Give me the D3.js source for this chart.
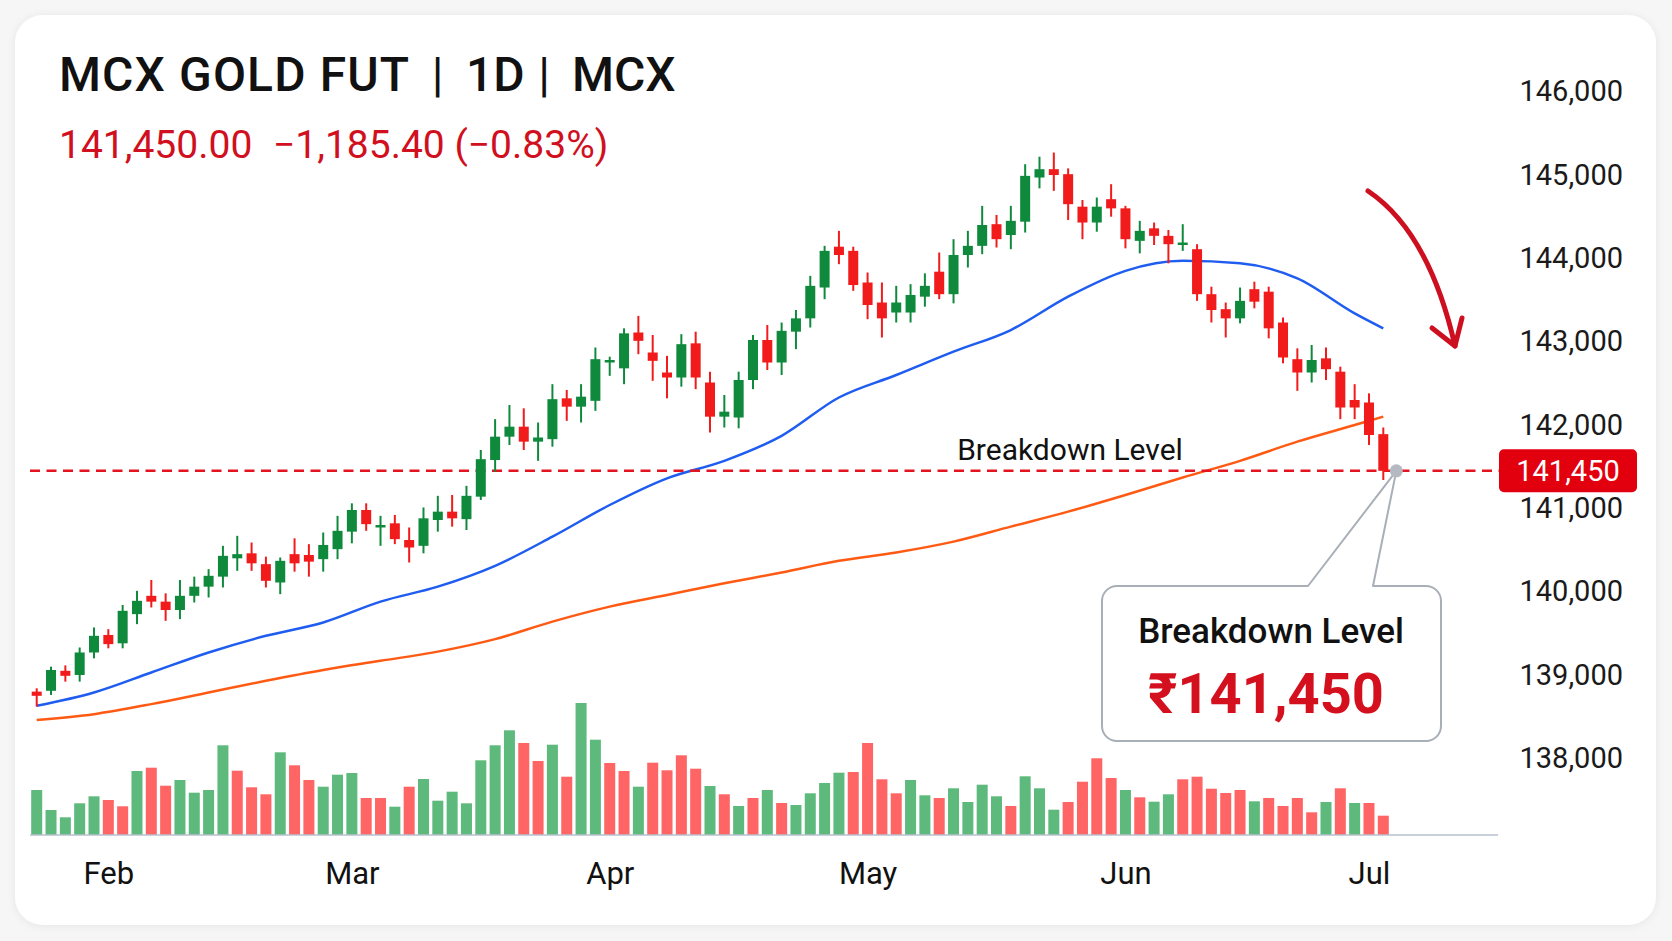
<!DOCTYPE html>
<html>
<head>
<meta charset="utf-8">
<script src="https://cdn.jsdelivr.net/npm/d3@7"></script>
<style>
	body { margin: 0; background: #f6f6f7; }
	svg { display: block; font-family: Roboto, "Noto Sans", "DejaVu Sans", sans-serif; }
</style>
</head>
<body>
<svg id="chart" width="1672" height="941"></svg>
<script>
	//daily candles
	var opens  = [138800,138810,139050,139000,139270,139480,139380,139730,139950,139880,139780,139950,140060,140180,140400,140460,140330,140110,140450,140440,140390,140510,140720,140980,140770,140820,140620,140550,140860,140960,140870,141140,141580,141860,141980,141800,141830,142320,142220,142290,142760,142680,143110,142870,142630,142570,142980,142510,142100,142090,142540,143020,142750,143120,143280,143650,144140,144090,143710,143470,143350,143350,143540,143840,143570,144040,144150,144410,144280,144440,144970,145070,145010,144620,144430,144710,144600,144210,144360,144270,144160,144110,143570,143390,143280,143630,143600,143230,142790,142630,142800,142640,142300,142270,141890];
	var highs  = [138840,139100,139115,139330,139570,139550,139840,140010,140140,139980,140140,140180,140270,140550,140670,140590,140420,140410,140640,140570,140710,140910,141060,141060,140910,140920,140770,141010,141150,141160,141270,141700,142070,142240,142200,142030,142490,142420,142490,142930,142820,143160,143310,143080,142830,143090,143120,142640,142360,142640,143080,143200,143230,143380,143790,144150,144330,144140,143830,143710,143670,143690,143820,144070,144230,144330,144630,144520,144630,145130,145220,145270,145080,144700,144730,144890,144630,144450,144430,144340,144410,144170,143660,143470,143650,143720,143660,143290,142920,142960,142930,142700,142490,142380,141970];
	var lows   = [138620,138760,138920,138920,139200,139320,139320,139610,139810,139650,139670,139870,139930,140050,140250,140250,140050,139970,140240,140180,140240,140390,140580,140730,140550,140570,140350,140460,140720,140780,140740,141100,141440,141760,141700,141570,141740,142050,142030,142170,142590,142490,142850,142530,142320,142460,142430,141910,141970,141960,142430,142660,142600,142910,143170,143510,143930,143610,143270,143050,143230,143230,143420,143510,143460,143890,144050,144130,144110,144310,144840,144810,144460,144230,144320,144500,144120,144060,144160,143940,144090,143490,143230,143050,143220,143400,143040,142740,142410,142510,142540,142070,142070,141760,141340];
	var closes = [138750,139060,138990,139270,139470,139370,139770,139890,139880,139780,139950,140060,140190,140430,140450,140340,140130,140370,140340,140360,140560,140730,140980,140810,140800,140630,140530,140880,140960,140880,141150,141590,141860,141980,141800,141850,142310,142220,142340,142790,142780,143100,143010,142770,142570,142970,142570,142100,142160,142540,143020,142750,143130,143280,143670,144090,144040,143680,143440,143280,143470,143560,143670,143570,144040,144150,144400,144230,144450,144990,145070,145000,144650,144430,144620,144600,144230,144330,144270,144170,144190,143570,143380,143280,143490,143480,143160,142810,142630,142780,142670,142210,142210,141880,141450];

	//volume and its side (u = buying, d = selling)
	var volumes = [4500,2500,1770,3170,3870,3500,2870,6400,6730,4930,5500,4230,4500,8970,6430,4770,4070,8270,6970,5500,4830,6030,6200,3700,3700,2830,4830,5600,3430,4330,3170,7470,8970,10470,9200,7400,9030,5830,13200,9530,7200,6400,4830,7230,6470,7970,6630,4900,4070,2900,3700,4500,3200,3000,4170,5200,6230,6300,9200,5570,4170,5500,3970,3700,4670,3300,5030,3870,2900,5870,4670,2530,3300,5330,7670,5700,4500,3770,3330,4070,5570,5830,4630,4200,4500,3370,3700,2900,3700,2270,3300,4670,3200,3200,1930];
	var volSide = "uuuuudduddu uuudddudduuudduduuuuuuudduduudduddddudududuu uudddduuduuuuduuudddduduuddddduddddududdd".replace(/ /g,"").split("");

	//moving averages sampled at candle indices
	var maIdx  = [0,4,8,12,16,20,24,28,32,36,40,44,48,52,56,60,64,68,72,76,80,84,88,92,94];
	var ma50   = [138630,138790,139030,139270,139470,139630,139880,140060,140310,140660,141040,141360,141570,141870,142330,142600,142880,143140,143540,143850,143970,143940,143760,143340,143160];
	var ma200  = [138460,138530,138650,138790,138930,139060,139170,139280,139430,139640,139820,139960,140100,140230,140370,140470,140600,140780,140960,141160,141370,141570,141800,142000,142100];

	var priceTicks = [138000,139000,140000,141000,142000,143000,144000,145000,146000];
	var monthNames = ["Feb","Mar","Apr","May","Jun","Jul"];
	var monthIdx   = [5,22,40,58,76,93];
	var breakLevel = 141450;

	var green = "#0f8a3c", red = "#f21b1b";
	var volGreen = "#5dba7c", volRed = "#ff6565";

	var svg = d3.select("#chart");
	var n = closes.length;
	var x = d3.scaleLinear().domain([0, n - 1]).range([36.7, 1383.3]);
	var y = d3.scaleLinear().domain([138000, 146000]).range([758.3, 91.7]);
	var volBase = 835;
	var yVol = d3.scaleLinear().domain([0, 13200]).range([volBase, 703]);

	//card
	var defs = svg.append("defs");
	var f = defs.append("filter").attr("id", "shadow").attr("x", "-5%").attr("y", "-5%").attr("width", "110%").attr("height", "110%");
	f.append("feDropShadow").attr("dx", 0).attr("dy", 1).attr("stdDeviation", 4).attr("flood-color", "#000").attr("flood-opacity", 0.07);
	svg.append("rect").attr("x", 15).attr("y", 15).attr("width", 1641).attr("height", 910)
		.attr("rx", 28).attr("fill", "#fff").attr("filter", "url(#shadow)");

	//volume
	svg.append("g").selectAll("rect").data(volumes).enter().append("rect")
		.attr("x", function(d, i){ return x(i) - 5.5; })
		.attr("y", function(d){ return yVol(d); })
		.attr("width", 11)
		.attr("height", function(d){ return volBase - yVol(d); })
		.attr("fill", function(d, i){ return volSide[i] == "u" ? volGreen : volRed; });
	svg.append("line").attr("x1", 30).attr("x2", 1498).attr("y1", volBase).attr("y2", volBase)
		.attr("stroke", "#b9c1cc").attr("stroke-width", 1.5);

	//moving averages
	var maLine = function(vals){
		return d3.line()
			.x(function(d, i){ return x(maIdx[i]); })
			.y(function(d){ return y(d); })
			.curve(d3.curveMonotoneX)(vals);
	};
	svg.append("path").attr("d", maLine(ma200)).attr("fill", "none").attr("stroke", "#ff5a14").attr("stroke-width", 2.5);
	svg.append("path").attr("d", maLine(ma50)).attr("fill", "none").attr("stroke", "#1f5cf0").attr("stroke-width", 2.5);

	//breakdown line
	svg.append("line").attr("x1", 30).attr("x2", 1499).attr("y1", y(breakLevel)).attr("y2", y(breakLevel))
		.attr("stroke", "#e3141f").attr("stroke-width", 2.5).attr("stroke-dasharray", "10,6.5");

	//candles
	var candles = svg.append("g").selectAll("g").data(closes).enter().append("g")
		.attr("fill", function(d, i){ return d >= opens[i] ? green : red; })
		.attr("stroke", function(d, i){ return d >= opens[i] ? green : red; });
	candles.append("line")
		.attr("x1", function(d, i){ return x(i); })
		.attr("x2", function(d, i){ return x(i); })
		.attr("y1", function(d, i){ return y(highs[i]); })
		.attr("y2", function(d, i){ return y(lows[i]); })
		.attr("stroke-width", 2);
	candles.append("rect")
		.attr("x", function(d, i){ return x(i) - 5; })
		.attr("y", function(d, i){ return y(Math.max(d, opens[i])); })
		.attr("width", 10)
		.attr("height", function(d, i){ return Math.max(2.5, Math.abs(y(d) - y(opens[i]))); })
		.attr("stroke", "none");

	//axes
	var yAxis = svg.append("g").attr("transform", "translate(1623,0)")
		.call(d3.axisRight(y).tickValues(priceTicks).tickFormat(d3.format(",")).tickSize(0));
	yAxis.select(".domain").remove();
	yAxis.selectAll("text").attr("x", 0).attr("text-anchor", "end")
		.attr("font-size", 29).attr("font-family", "Roboto, sans-serif").attr("fill", "#1a1a1a");

	var xAxis = svg.append("g").attr("transform", "translate(0,852)")
		.call(d3.axisBottom(x).tickValues(monthIdx).tickFormat(function(d, i){ return monthNames[i]; }).tickSize(0));
	xAxis.select(".domain").remove();
	xAxis.selectAll("text").attr("dy", 0).attr("y", 32)
		.attr("font-size", 31).attr("font-family", "Roboto, sans-serif").attr("fill", "#111");

	//price badge
	var by = y(breakLevel);
	svg.append("rect").attr("x", 1499).attr("y", by - 21.5).attr("width", 138).attr("height", 43)
		.attr("rx", 5).attr("fill", "#e2000f");
	svg.append("text").attr("x", 1568).attr("y", by + 10.5).attr("text-anchor", "middle")
		.attr("font-size", 29).attr("fill", "#fff").text(d3.format(",")(breakLevel));

	svg.append("text").attr("x", 1070).attr("y", by - 11).attr("text-anchor", "middle")
		.attr("font-size", 30).attr("fill", "#111").text("Breakdown Level");

	//callout box with pointer to last close
	var px = x(n - 1) + 13, py = by, r = 15;
	var bx0 = 1102, bx1 = 1441, by0 = 586, by1 = 741;
	var p = d3.path();
	p.moveTo(bx0 + r, by0);
	p.lineTo(1308, by0);
	p.lineTo(px, py);
	p.lineTo(1373, by0);
	p.lineTo(bx1 - r, by0);
	p.arcTo(bx1, by0, bx1, by0 + r, r);
	p.lineTo(bx1, by1 - r);
	p.arcTo(bx1, by1, bx1 - r, by1, r);
	p.lineTo(bx0 + r, by1);
	p.arcTo(bx0, by1, bx0, by1 - r, r);
	p.lineTo(bx0, by0 + r);
	p.arcTo(bx0, by0, bx0 + r, by0, r);
	p.closePath();
	svg.append("path").attr("d", p.toString()).attr("fill", "#fff").attr("fill-opacity", 0.95)
		.attr("stroke", "#a9afb8").attr("stroke-width", 2).attr("stroke-linejoin", "round");
	svg.append("circle").attr("cx", px).attr("cy", py).attr("r", 6.5).attr("fill", "#b5b9c1");
	svg.append("text").attr("x", 1271).attr("y", 643).attr("text-anchor", "middle")
		.attr("font-size", 35).attr("font-weight", 500).attr("fill", "#111").text("Breakdown Level");
	svg.append("text").attr("x", 1266).attr("y", 713).attr("text-anchor", "middle")
		.attr("font-size", 56).attr("font-weight", 700).attr("fill", "#d4101e").text("₹" + d3.format(",")(breakLevel));

	//trend arrow
	svg.append("path").attr("d", "M1368,191 Q1429,232 1455,346")
		.attr("fill", "none").attr("stroke", "#cc1020").attr("stroke-width", 5).attr("stroke-linecap", "round");
	svg.append("path").attr("d", "M1432,328 L1455,346 L1462,318")
		.attr("fill", "none").attr("stroke", "#cc1020").attr("stroke-width", 5)
		.attr("stroke-linecap", "round").attr("stroke-linejoin", "round");

	//header
	var title = svg.append("g").attr("font-size", 48).attr("fill", "#111");
	title.append("text").attr("x", 59).attr("y", 91).attr("font-weight", 500).attr("textLength", 350).text("MCX GOLD FUT");
	title.append("text").attr("x", 437.5).attr("y", 91).attr("text-anchor", "middle").text("|");
	title.append("text").attr("x", 466).attr("y", 91).attr("font-weight", 500).text("1D");
	title.append("text").attr("x", 544).attr("y", 91).attr("text-anchor", "middle").text("|");
	title.append("text").attr("x", 572).attr("y", 91).attr("font-weight", 500).text("MCX");

	var sub = svg.append("g").attr("font-size", 39).attr("fill", "#d0101e");
	sub.append("text").attr("x", 59).attr("y", 158).text("141,450.00");
	sub.append("text").attr("x", 273).attr("y", 158).text("\u22121,185.40 (\u22120.83%)");
</script>
</body>
</html>
